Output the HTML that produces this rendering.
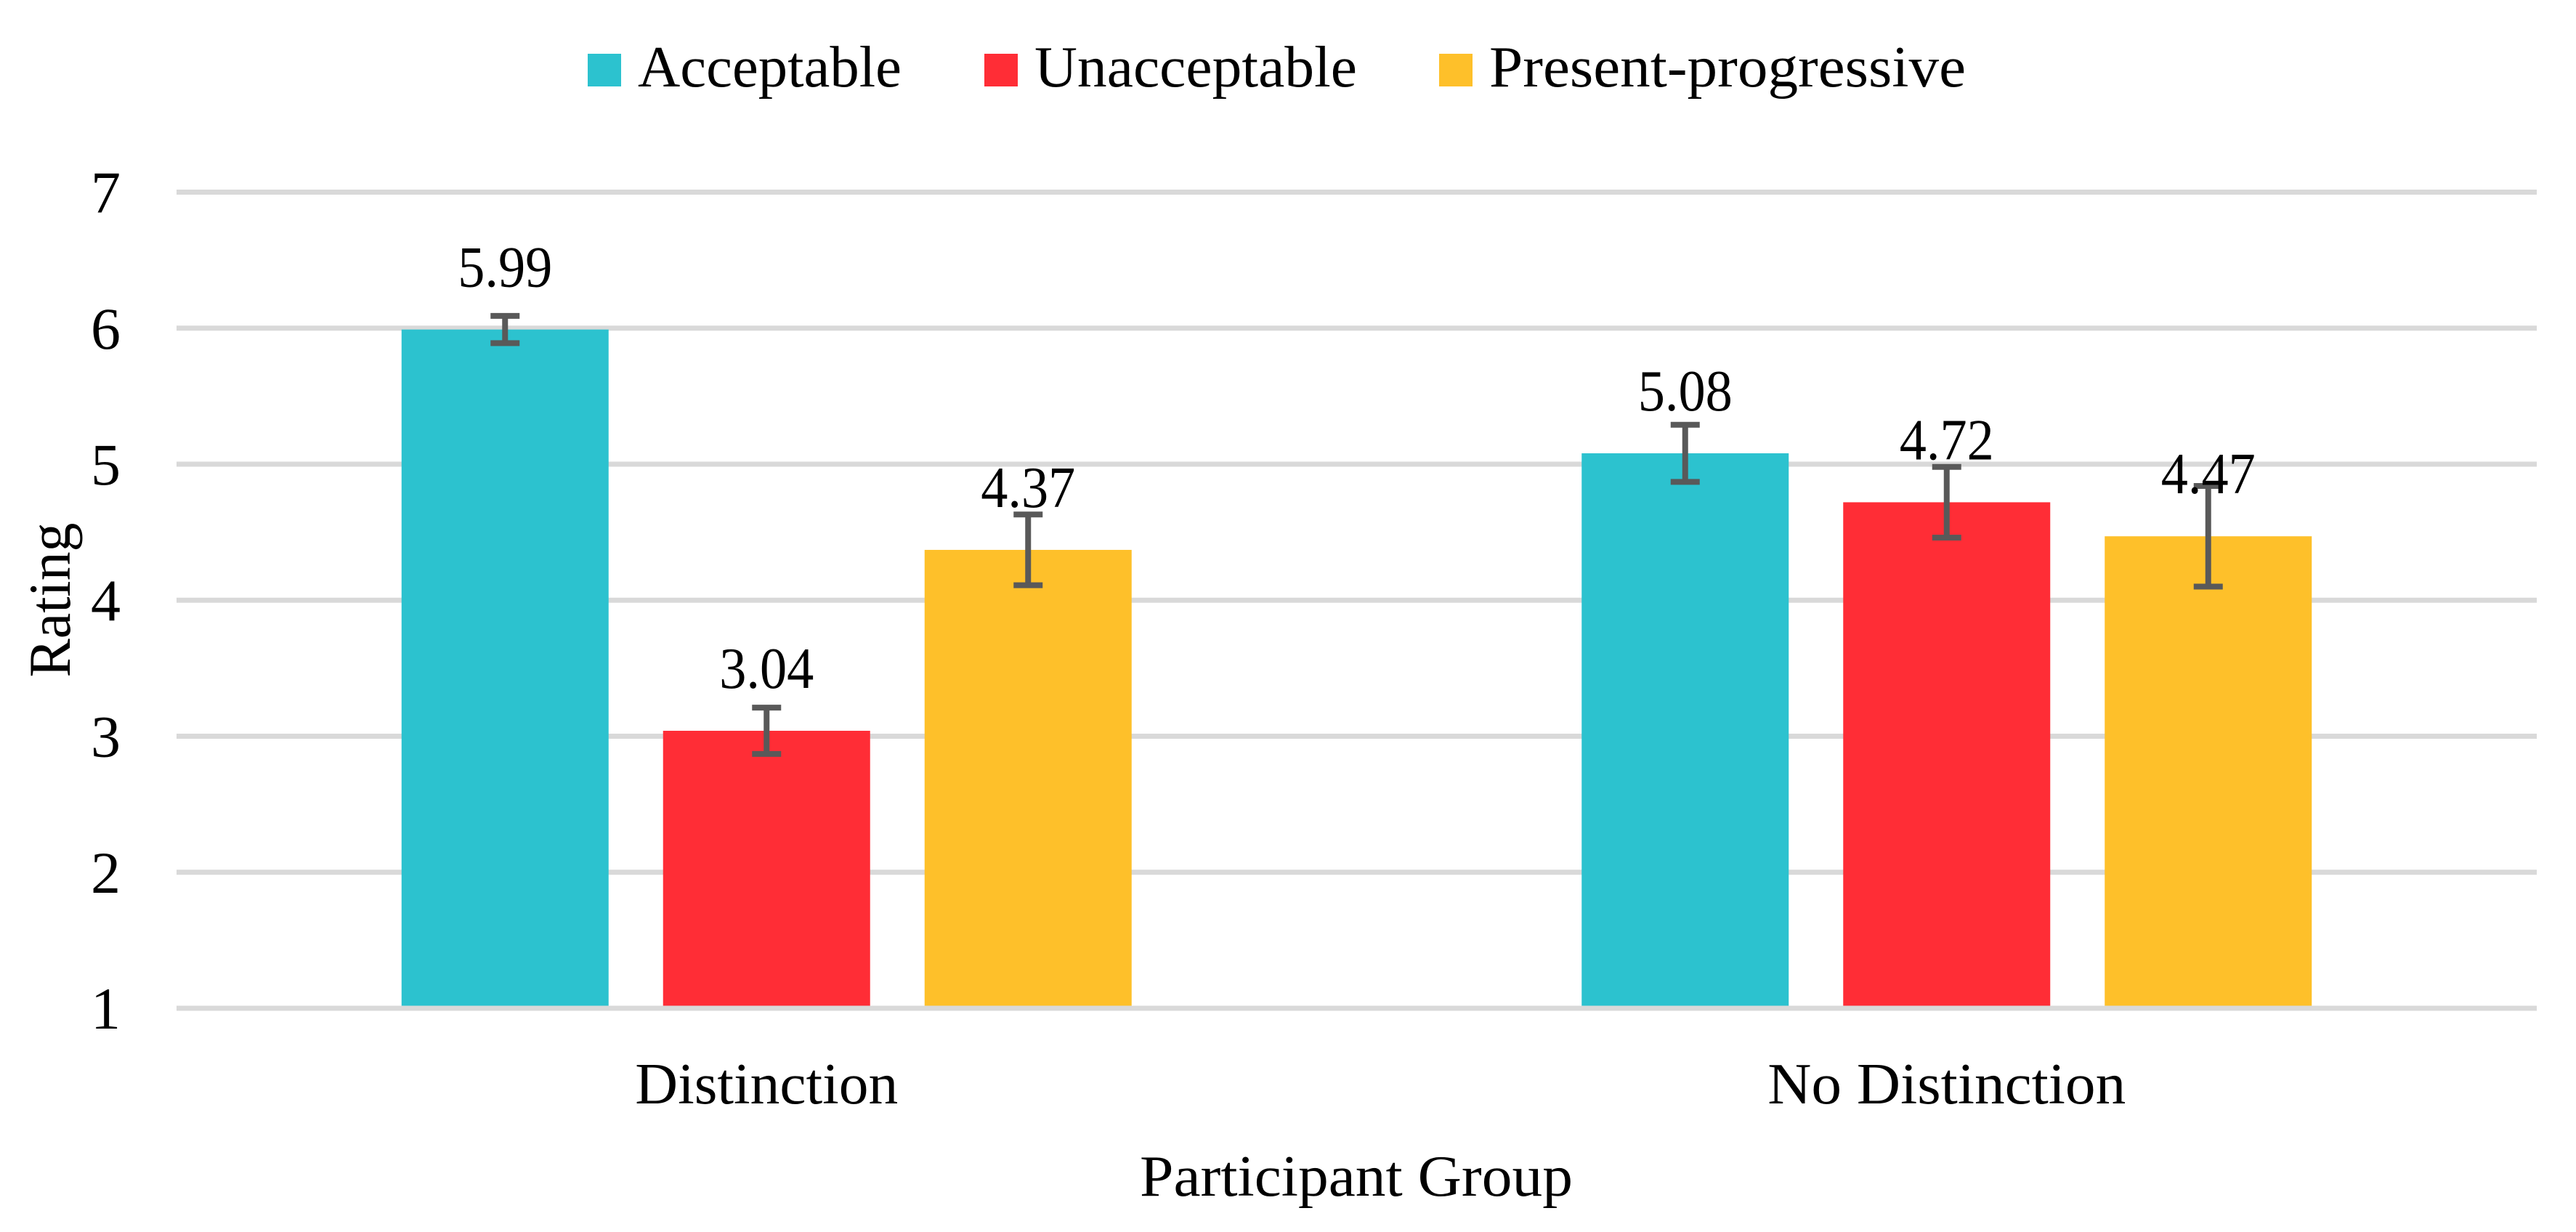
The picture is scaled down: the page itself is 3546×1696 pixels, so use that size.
<!DOCTYPE html>
<html><head><meta charset="utf-8"><style>
html,body{margin:0;padding:0;background:#fff;}
svg{display:block;}
text{font-family:"Liberation Serif",serif;fill:#000;}
</style></head><body>
<svg id="chart" width="3546" height="1696" viewBox="0 0 3546 1696" xmlns="http://www.w3.org/2000/svg">
<g id="legend"></g>
<g id="grid"></g>
<g id="yticks"></g>
<g id="bars"></g>
<g id="xlabels"></g>
<text transform="translate(96,826) rotate(-90)" text-anchor="middle" font-size="82" textLength="213" lengthAdjust="spacingAndGlyphs">Rating</text>
<text x="1867" y="1646" text-anchor="middle" font-size="80" textLength="596" lengthAdjust="spacingAndGlyphs">Participant Group</text>
</svg>
<script>
const categories = ["Distinction", "No Distinction"];
const seriesNames = ["Acceptable", "Unacceptable", "Present-progressive"];
const acceptable = [5.99, 5.08];
const unacceptable = [3.04, 4.72];
const presentProgressive = [4.37, 4.47];
const acceptableErr = [0.10, 0.21];
const unacceptableErr = [0.17, 0.26];
const presentProgressiveErr = [0.26, 0.37];
const yTicks = [1, 2, 3, 4, 5, 6, 7];

const NS = "http://www.w3.org/2000/svg";
const colors = ["#2CC2CF", "#FF2D36", "#FEC02A"];
const series = [acceptable, unacceptable, presentProgressive];
const errs = [acceptableErr, unacceptableErr, presentProgressiveErr];
const plotL = 243, plotR = 3492, plotT = 264.5, plotB = 1388;
const yMin = 1, yMax = 7;
function yScale(v){ return plotB - (v - yMin) / (yMax - yMin) * (plotB - plotT); }
const catW = (plotR - plotL) / categories.length;
function xCenter(i){ return plotL + catW * (i + 0.5); }
const barW = 285, barStep = 360;
function mk(tag, attrs, parent){ const e = document.createElementNS(NS, tag); for (const k in attrs) e.setAttribute(k, attrs[k]); parent.appendChild(e); return e; }

const grid = document.getElementById('grid');
const yt = document.getElementById('yticks');
yTicks.forEach(t => {
  const l = mk('line', {x1: plotL, x2: plotR, y1: yScale(t), y2: yScale(t), stroke: '#D9D9D9', 'stroke-width': 7}, grid);
  
  
  const tx = mk('text', {x: 166, y: yScale(t) + 28, 'text-anchor': 'end', 'font-size': 82}, yt);
  tx.textContent = t;
  
  
});

const bars = document.getElementById('bars');
const xl = document.getElementById('xlabels');
const labelW = [362, 493];
categories.forEach((c, i) => {
  const cx = xCenter(i);
  series.forEach((s, j) => {
    const bx = cx + (j - 1) * barStep - barW / 2;
    const top = yScale(s[i]);
    const r = mk('rect', {x: bx, y: top, width: barW, height: plotB - 3.5 - top, fill: colors[j]}, bars);
    
    
    const ex = bx + barW / 2;
    const eT = yScale(s[i] + errs[j][i]), eB = yScale(s[i] - errs[j][i]);
    const eg = mk('g', {stroke: '#595959', 'stroke-width': 8}, bars);
    
    
    mk('line', {x1: ex, x2: ex, y1: eT, y2: eB}, eg);
    mk('line', {x1: ex - 20, x2: ex + 20, y1: eT, y2: eT}, eg);
    mk('line', {x1: ex - 20, x2: ex + 20, y1: eB, y2: eB}, eg);
    const vt = mk('text', {x: ex, y: top - 59, 'text-anchor': 'middle', 'font-size': 80, textLength: 130, lengthAdjust: 'spacingAndGlyphs'}, bars);
    vt.textContent = s[i].toFixed(2);
    
    
  });
  const t = mk('text', {x: cx, y: 1519, 'text-anchor': 'middle', 'font-size': 80, textLength: labelW[i], lengthAdjust: 'spacingAndGlyphs'}, xl);
  t.textContent = c;
  
  
});

const lg = document.getElementById('legend');
const legX = [809, 1355, 1981];
const legTW = [363, 444, 656];
seriesNames.forEach((n, j) => {
  const g = mk('g', {}, lg);
  
  
  mk('rect', {x: legX[j], y: 74, width: 46, height: 45, fill: colors[j]}, g);
  const t = mk('text', {x: legX[j] + 69, y: 119, 'font-size': 80, textLength: legTW[j], lengthAdjust: 'spacingAndGlyphs'}, g);
  t.textContent = n;
});
</script>
</body></html>
